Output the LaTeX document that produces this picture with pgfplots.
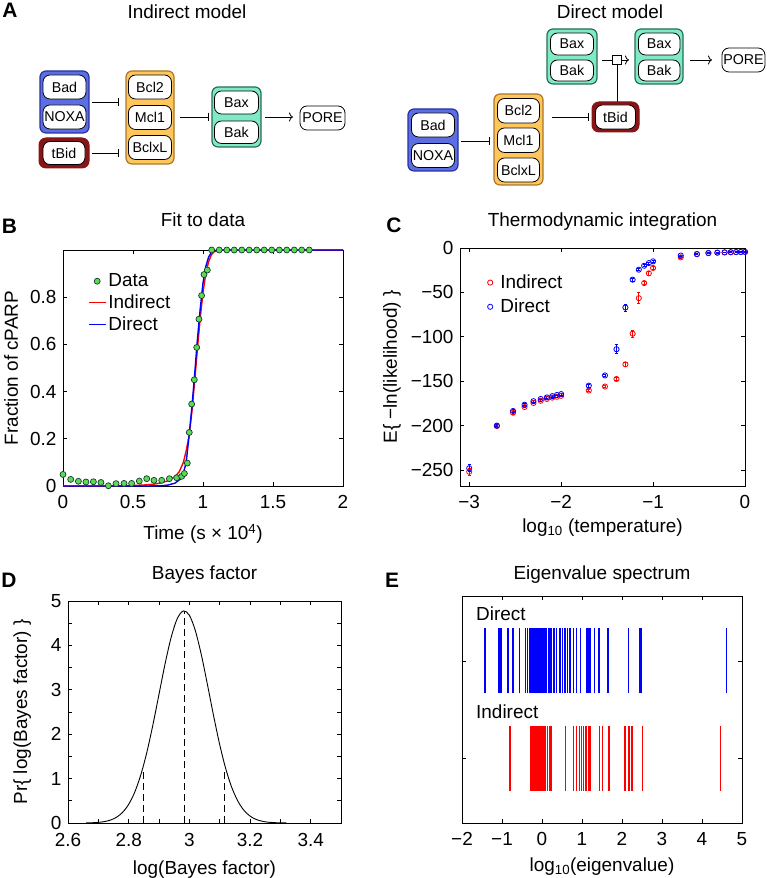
\documentclass[border=0pt]{standalone}
\usepackage{pgfplots}
\pgfplotsset{compat=1.18}
\usepackage{fontspec}
\setmainfont{Liberation Sans}
\usetikzlibrary{arrows.meta}

\definecolor{gblue}{RGB}{92,110,228}
\definecolor{gblueE}{RGB}{40,50,160}
\definecolor{gorange}{RGB}{255,198,92}
\definecolor{gorangeE}{RGB}{170,120,40}
\definecolor{ggreen}{RGB}{128,234,196}
\definecolor{ggreenE}{RGB}{40,110,85}
\definecolor{tbidred}{RGB}{135,20,22}
\definecolor{datagreen}{RGB}{90,220,80}
\definecolor{dataedge}{RGB}{20,60,50}

\newcommand\fs{\fontsize{19}{22}\selectfont}
\newcommand\bfs{\fontsize{14.3}{17}\selectfont}
\newcommand\pfs{\fontsize{21}{24}\selectfont\bfseries}
\newcommand\pill[5]{\draw[rounded corners=7bp, line width=0.8bp, fill=white] (#1,#2) rectangle (#3,#4);
  \node[font=\bfs, inner sep=0pt] at ({(#1+#3)/2},{(#2+#4)/2}) {#5};}

\pgfplotsset{
  myaxis/.style={scale only axis, anchor=south west, clip=false,
    axis line style={line width=0.8bp}, tick style={line width=0.7bp, black},
    major tick length=4bp, minor tick length=4bp,
    tick label style={font=\fs, inner sep=1bp}, label style={font=\fs}, title style={font=\fs},
    xticklabel style={yshift=-8.5bp}, yticklabel style={xshift=-5.3bp},
    /pgf/number format/assume math mode=true},
}

\begin{document}
\begin{tikzpicture}
\useasboundingbox (0,0) rectangle (767bp,878bp);

% ---------------- Panel A (diagrams) ----------------
\begin{scope}[x=1bp, y=-1bp, yshift=878bp]
\node[font=\pfs] at (10,10) {A};
\node[font=\fs] at (187,12) {Indirect model};
\node[font=\fs] at (610,12) {Direct model};
% Indirect model
\draw[rounded corners=6bp, line width=1.2bp, draw=gblueE, fill=gblue] (40,71) rectangle (89,133);
\pill{43}{75}{86}{99}{Bad}
\pill{43}{105}{86}{129}{NOXA}
\draw[rounded corners=7bp, line width=1bp, draw=tbidred, fill=tbidred] (39,138) rectangle (89,168);
\pill{43}{141.5}{85}{164.5}{tBid}
\draw[rounded corners=6bp, line width=1.2bp, draw=gorangeE, fill=gorange] (126,71) rectangle (174,164);
\pill{128.5}{75}{171.5}{99}{Bcl2}
\pill{128.5}{105.5}{171.5}{129.5}{Mcl1}
\pill{128.5}{135.5}{171.5}{159.5}{BclxL}
\draw[rounded corners=6bp, line width=1.2bp, draw=ggreenE, fill=ggreen] (212,87) rectangle (261,147);
\pill{214.5}{91}{258.5}{114}{Bax}
\pill{214.5}{121}{258.5}{143.5}{Bak}
\pill{300}{106}{345}{130}{PORE}
\draw[line width=0.8bp, -{Bar[width=8bp]}] (92,102) -- (119,102);
\draw[line width=0.8bp, -{Bar[width=8bp]}] (92,153) -- (119,153);
\draw[line width=0.8bp, -{Bar[width=8bp]}] (180,117) -- (209,117);
\draw[line width=0.8bp, -{To[length=4bp,width=9bp]}] (265,117) -- (293,117);
% Direct model
\draw[rounded corners=6bp, line width=1.2bp, draw=ggreenE, fill=ggreen] (547,29) rectangle (597,84);
\pill{550.5}{33}{593.5}{55}{Bax}
\pill{550.5}{60}{593.5}{81}{Bak}
\draw[rounded corners=6bp, line width=1.2bp, draw=ggreenE, fill=ggreen] (635,29) rectangle (683,84);
\pill{638.5}{33}{680}{55}{Bax}
\pill{638.5}{60}{680}{81}{Bak}
\draw[line width=0.8bp] (602,60) -- (612.5,60);
\draw[line width=0.8bp] (617,64.5) -- (617,102);
\draw[line width=0.8bp, fill=white] (612.5,55.5) rectangle (621.5,64.5);
\draw[line width=0.8bp, -{To[length=4bp,width=9bp]}] (621.5,60) -- (629,60);
\draw[line width=0.8bp, -{To[length=4bp,width=9bp]}] (690,60) -- (712,60);
\pill{722}{48}{765}{72}{PORE}
\draw[rounded corners=7bp, line width=1bp, draw=tbidred, fill=tbidred] (592,102) rectangle (639,132);
\pill{595.5}{105}{635.5}{129}{tBid}
\draw[line width=0.8bp, -{Bar[width=8bp]}] (552,117) -- (589,117);
\draw[rounded corners=6bp, line width=1.2bp, draw=gorangeE, fill=gorange] (494,94) rectangle (543,185);
\pill{497.5}{98.5}{539.5}{123}{Bcl2}
\pill{497.5}{128}{539.5}{152.5}{Mcl1}
\pill{497.5}{158}{539.5}{182}{BclxL}
\draw[line width=0.8bp, -{Bar[width=8bp]}] (461,141) -- (490,141);
\draw[rounded corners=6bp, line width=1.2bp, draw=gblueE, fill=gblue] (408,109) rectangle (458,171);
\pill{411.5}{113}{454.5}{137}{Bad}
\pill{411.5}{143.5}{454.5}{167.5}{NOXA}
% panel letters
\node[font=\pfs] at (9.5,226) {B};
\node[font=\pfs] at (394,225) {C};
\node[font=\pfs] at (9,580) {D};
\node[font=\pfs] at (392,580) {E};
\end{scope}

% ---------------- Panel B ----------------
\begin{axis}[myaxis, at={(63bp,392bp)}, width=280bp, height=236bp,
  xmin=0, xmax=2, ymin=0, ymax=1,
  xtick={0,0.5,1,1.5,2}, ytick={0,0.2,0.4,0.6,0.8},
  title={Fit to data}, title style={at={(axis description cs:0.5,1.075)}, anchor=base},
  xlabel={Time (s × 10\textsuperscript{4})}, xlabel style={at={(axis description cs:0.5,-0.228)}, anchor=base},
  ylabel={Fraction of cPARP}, ylabel style={at={(axis description cs:-0.185,0.5)}, anchor=center},
  legend style={draw=none, fill=none, at={(axis description cs:0.085,0.912)}, anchor=north west, font=\fs, row sep=2.5bp, inner sep=1bp},
  legend cell align=left]
\addplot[only marks, mark=*, mark size=3bp, mark options={fill=datagreen, draw=dataedge, line width=0.7bp}] coordinates {
(0.0,0.049) (0.055,0.028) (0.11,0.02) (0.164,0.017) (0.217,0.018) (0.271,0.015) (0.324,0.001)
(0.379,0.01) (0.436,0.011) (0.49,0.011) (0.545,0.021) (0.598,0.031) (0.65,0.024) (0.705,0.024)
(0.76,0.031) (0.812,0.035) (0.848,0.041) (0.867,0.053) (0.888,0.097) (0.902,0.227) (0.919,0.347)
(0.938,0.45) (0.955,0.587) (0.971,0.707) (0.99,0.807) (1.007,0.896) (1.031,0.915)
(1.062,1) (1.116,1) (1.17,1) (1.223,1) (1.277,1) (1.33,1) (1.384,1) (1.437,1) (1.491,1)
(1.545,1) (1.598,1) (1.652,1) (1.705,1) (1.759,1)};
\addlegendentry{Data}
\addplot[red, line width=1.4bp] coordinates {
(0,0) (0.3,0) (0.5,0.002) (0.6,0.005) (0.65,0.008) (0.7,0.013) (0.75,0.022) (0.8,0.04)
(0.83,0.06) (0.86,0.1) (0.88,0.15) (0.9,0.21) (0.92,0.31) (0.94,0.44) (0.96,0.58) (0.98,0.71)
(1.0,0.82) (1.02,0.9) (1.04,0.95) (1.06,0.98) (1.08,0.993) (1.12,1) (2,1)};
\addlegendentry{Indirect}
\addplot[blue, line width=1.4bp] coordinates {
(0,0) (0.6,0) (0.7,0.001) (0.75,0.004) (0.8,0.012) (0.84,0.03) (0.86,0.055) (0.88,0.1)
(0.9,0.21) (0.92,0.33) (0.94,0.47) (0.96,0.62) (0.98,0.75) (1.0,0.86) (1.02,0.93) (1.04,0.97)
(1.06,0.99) (1.1,1) (2,1)};
\addlegendentry{Direct}
\end{axis}

% ---------------- Panel C ----------------
\begin{axis}[myaxis, at={(460bp,392bp)}, width=285bp, height=238bp,
  xmin=-3.1, xmax=0, ymin=-268, ymax=0,
  xtick={-3,-2,-1,0}, xticklabels={−3,−2,−1,0},
  ytick={-250,-200,-150,-100,-50,0}, yticklabels={−250,−200,−150,−100,−50,0},
  title={Thermodynamic integration}, title style={at={(axis description cs:0.5,1.064)}, anchor=base},
  xlabel={log\textsubscript{10} (temperature)}, xlabel style={at={(axis description cs:0.5,-0.195)}, anchor=base},
  ylabel={E\{ −ln(likelihood) \}}, ylabel style={at={(axis description cs:-0.239,0.5)}, anchor=center},
  legend style={draw=none, fill=none, at={(axis description cs:0.08,0.9)}, anchor=north west, font=\fs, row sep=5bp, inner sep=1bp},
  legend cell align=left,
  legend image code/.code={\path (0bp,0bp) (14bp,0bp); \draw[mark repeat=2,mark phase=2,#1] plot coordinates {(0bp,0bp) (6bp,0bp) (12bp,0bp)};}]
\addplot[red, only marks, mark=o, mark size=2.6bp, mark options={line width=0.8bp},
  error bars/.cd, y dir=both, y explicit, error bar style={line width=0.8bp},
  error mark options={rotate=90, mark size=1.5bp, line width=0.8bp}] coordinates {
(-3,-252) +- (0,4) (-2.699,-200.5) +- (0,1) (-2.523,-185.5) +- (0,1.5) (-2.398,-179) +- (0,1)
(-2.301,-174.5) +- (0,1) (-2.222,-172) +- (0,1) (-2.155,-170) +- (0,1) (-2.097,-168.5) +- (0,1)
(-2.046,-167.5) +- (0,1) (-2,-166.5) +- (0,1) (-1.699,-160.5) +- (0,1) (-1.523,-156) +- (0,1)
(-1.398,-147.5) +- (0,1.5) (-1.301,-131) +- (0,2) (-1.222,-96.5) +- (0,4) (-1.155,-56.5) +- (0,6)
(-1.097,-39.5) +- (0,2) (-1.046,-28.5) +- (0,2) (-1,-22.5) +- (0,2) (-0.699,-10.5) +- (0,1)
(-0.523,-7) +- (0,0.5) (-0.398,-5.8) +- (0,0.5) (-0.301,-5.3) +- (0,0.5) (-0.222,-5) +- (0,0.5)
(-0.155,-4.8) +- (0,0.5) (-0.097,-4.6) +- (0,0.5) (-0.046,-4.5) +- (0,0.5) (0,-4.4) +- (0,0.5)};
\addlegendentry{Indirect}
\addplot[blue, only marks, mark=o, mark size=2.6bp, mark options={line width=0.8bp},
  error bars/.cd, y dir=both, y explicit, error bar style={line width=0.8bp},
  error mark options={rotate=90, mark size=1.5bp, line width=0.8bp}] coordinates {
(-3,-248) +- (0,4) (-2.699,-200) +- (0,1) (-2.523,-183.5) +- (0,1.5) (-2.398,-176.5) +- (0,1)
(-2.301,-172.5) +- (0,1) (-2.222,-170) +- (0,1) (-2.155,-168.3) +- (0,1) (-2.097,-166.8) +- (0,1)
(-2.046,-165.5) +- (0,1) (-2,-164.5) +- (0,1) (-1.699,-155) +- (0,1.5) (-1.523,-143.5) +- (0,1.5)
(-1.398,-114) +- (0,5) (-1.301,-67) +- (0,4) (-1.222,-35.7) +- (0,1.5) (-1.155,-24.4) +- (0,1)
(-1.097,-20) +- (0,1) (-1.046,-17) +- (0,1) (-1,-15) +- (0,1) (-0.699,-8.5) +- (0,0.5)
(-0.523,-6.8) +- (0,0.5) (-0.398,-5.6) +- (0,0.5) (-0.301,-5.2) +- (0,0.5) (-0.222,-4.9) +- (0,0.5)
(-0.155,-4.7) +- (0,0.5) (-0.097,-4.6) +- (0,0.5) (-0.046,-4.5) +- (0,0.5) (0,-4.4) +- (0,0.5)};
\addlegendentry{Direct}
\end{axis}

% ---------------- Panel D ----------------
\begin{axis}[myaxis, at={(68bp,55bp)}, width=273bp, height=222bp,
  xmin=2.6, xmax=3.5, ymin=0, ymax=5,
  xtick={2.6,2.8,3,3.2,3.4}, minor xtick={2.7,2.9,3.1,3.3},
  ytick={0,1,2,3,4,5}, minor ytick={0.5,1.5,2.5,3.5,4.5},
  xticklabel style={yshift=-1bp},
  title={Bayes factor}, title style={at={(axis description cs:0.5,1.07)}, anchor=base},
  xlabel={log(Bayes factor)}, xlabel style={at={(axis description cs:0.5,-0.231)}, anchor=base},
  ylabel={Pr\{ log(Bayes factor) \}}, ylabel style={at={(axis description cs:-0.168,0.5)}, anchor=center}]
\addplot[black, line width=0.9bp, smooth] coordinates {
(2.66,0.0025) (2.68,0.0061) (2.70,0.0143) (2.72,0.0316) (2.74,0.0658) (2.76,0.1294) (2.78,0.2401)
(2.80,0.4204) (2.82,0.695) (2.84,1.084) (2.86,1.594) (2.88,2.213) (2.90,2.899) (2.92,3.584)
(2.94,4.180) (2.96,4.600) (2.98,4.777) (3.00,4.681) (3.02,4.328) (3.04,3.776) (3.06,3.108)
(3.08,2.415) (3.10,1.770) (3.12,1.224) (3.14,0.799) (3.16,0.492) (3.18,0.2858) (3.20,0.1566)
(3.22,0.0811) (3.24,0.0396) (3.26,0.0182) (3.28,0.0079) (3.30,0.0033) (3.32,0.0013)};
\addplot[black, line width=0.8bp, dash pattern=on 7bp off 4bp] coordinates {(2.847,0) (2.847,1.2)};
\addplot[black, line width=0.8bp, dash pattern=on 7bp off 4bp] coordinates {(2.983,0) (2.983,4.78)};
\addplot[black, line width=0.8bp, dash pattern=on 7bp off 4bp] coordinates {(3.117,0) (3.117,1.2)};
\end{axis}

% ---------------- Panel E ----------------
\begin{axis}[myaxis, at={(462bp,55bp)}, width=280bp, height=227bp,
  xmin=-2, xmax=5, ymin=0.33, ymax=2.67,
  xtick={-2,-1,0,1,2,3,4,5}, xticklabels={−2,−1,0,1,2,3,4,5},
  ytick={1,2}, yticklabels={},
  unbounded coords=jump,
  title={Eigenvalue spectrum}, title style={at={(axis description cs:0.5,1.048)}, anchor=base},
  xlabel={log\textsubscript{10}(eigenvalue)}, xlabel style={at={(axis description cs:0.5,-0.214)}, anchor=base}]
\addplot[blue, line width=1.5bp, mark=none] coordinates {
(-1.43,1.665) (-1.43,2.335) (-1.43,nan) (-1.07,1.665) (-1.07,2.335) (-1.07,nan)
(-1.02,1.665) (-1.02,2.335) (-1.02,nan) (-0.85,1.665) (-0.85,2.335) (-0.85,nan)
(-0.73,1.665) (-0.73,2.335) (-0.73,nan) (-0.567,1.665) (-0.567,2.335) (-0.567,nan)
(-0.41,1.665) (-0.41,2.335) (-0.41,nan) (-0.36,1.665) (-0.36,2.335) (-0.36,nan)
(-0.3,1.665) (-0.3,2.335) (-0.3,nan) (-0.26,1.665) (-0.26,2.335) (-0.26,nan)
(-0.22,1.665) (-0.22,2.335) (-0.22,nan) (-0.195,1.665) (-0.195,2.335) (-0.195,nan)
(-0.17,1.665) (-0.17,2.335) (-0.17,nan) (-0.145,1.665) (-0.145,2.335) (-0.145,nan)
(-0.12,1.665) (-0.12,2.335) (-0.12,nan) (-0.095,1.665) (-0.095,2.335) (-0.095,nan)
(-0.07,1.665) (-0.07,2.335) (-0.07,nan) (-0.045,1.665) (-0.045,2.335) (-0.045,nan)
(-0.02,1.665) (-0.02,2.335) (-0.02,nan) (0.005,1.665) (0.005,2.335) (0.005,nan)
(0.03,1.665) (0.03,2.335) (0.03,nan) (0.055,1.665) (0.055,2.335) (0.055,nan)
(0.08,1.665) (0.08,2.335) (0.08,nan) (0.117,1.665) (0.117,2.335) (0.117,nan)
(0.158,1.665) (0.158,2.335) (0.158,nan) (0.2,1.665) (0.2,2.335) (0.2,nan)
(0.242,1.665) (0.242,2.335) (0.242,nan) (0.305,1.665) (0.305,2.335) (0.305,nan)
(0.367,1.665) (0.367,2.335) (0.367,nan) (0.45,1.665) (0.45,2.335) (0.45,nan)
(0.517,1.665) (0.517,2.335) (0.517,nan) (0.575,1.665) (0.575,2.335) (0.575,nan)
(0.642,1.665) (0.642,2.335) (0.642,nan) (0.7,1.665) (0.7,2.335) (0.7,nan)
(0.783,1.665) (0.783,2.335) (0.783,nan) (0.867,1.665) (0.867,2.335) (0.867,nan)
(0.96,1.665) (0.96,2.335) (0.96,nan) (1.11,1.665) (1.11,2.335) (1.11,nan)
(1.15,1.665) (1.15,2.335) (1.15,nan) (1.2,1.665) (1.2,2.335) (1.2,nan)
(1.315,1.665) (1.315,2.335) (1.315,nan) (1.43,1.665) (1.43,2.335) (1.43,nan)
(1.645,1.665) (1.645,2.335) (1.645,nan) (2.165,1.665) (2.165,2.335) (2.165,nan)
(2.45,1.665) (2.45,2.335) (2.45,nan) (2.475,1.665) (2.475,2.335) (2.475,nan)
(4.61,1.665) (4.61,2.335)};
\addplot[red, line width=1.5bp, mark=none] coordinates {
(-0.8,0.665) (-0.8,1.335) (-0.8,nan) (-0.275,0.665) (-0.275,1.335) (-0.275,nan)
(-0.25,0.665) (-0.25,1.335) (-0.25,nan) (-0.225,0.665) (-0.225,1.335) (-0.225,nan)
(-0.2,0.665) (-0.2,1.335) (-0.2,nan) (-0.175,0.665) (-0.175,1.335) (-0.175,nan)
(-0.15,0.665) (-0.15,1.335) (-0.15,nan) (-0.125,0.665) (-0.125,1.335) (-0.125,nan)
(-0.1,0.665) (-0.1,1.335) (-0.1,nan) (-0.075,0.665) (-0.075,1.335) (-0.075,nan)
(-0.05,0.665) (-0.05,1.335) (-0.05,nan) (-0.025,0.665) (-0.025,1.335) (-0.025,nan)
(0,0.665) (0,1.335) (0,nan) (0.025,0.665) (0.025,1.335) (0.025,nan)
(0.05,0.665) (0.05,1.335) (0.05,nan) (0.075,0.665) (0.075,1.335) (0.075,nan)
(0.14,0.665) (0.14,1.335) (0.14,nan) (0.183,0.665) (0.183,1.335) (0.183,nan)
(0.22,0.665) (0.22,1.335) (0.22,nan) (0.592,0.665) (0.592,1.335) (0.592,nan)
(0.783,0.665) (0.783,1.335) (0.783,nan) (0.867,0.665) (0.867,1.335) (0.867,nan)
(0.933,0.665) (0.933,1.335) (0.933,nan) (0.985,0.665) (0.985,1.335) (0.985,nan)
(1.04,0.665) (1.04,1.335) (1.04,nan) (1.1,0.665) (1.1,1.335) (1.1,nan)
(1.16,0.665) (1.16,1.335) (1.16,nan) (1.2,0.665) (1.2,1.335) (1.2,nan)
(1.44,0.665) (1.44,1.335) (1.44,nan) (1.517,0.665) (1.517,1.335) (1.517,nan)
(1.68,0.665) (1.68,1.335) (1.68,nan) (2.075,0.665) (2.075,1.335) (2.075,nan)
(2.18,0.665) (2.18,1.335) (2.18,nan) (2.25,0.665) (2.25,1.335) (2.25,nan)
(2.508,0.665) (2.508,1.335) (2.508,nan) (4.46,0.665) (4.46,1.335)};
\node[font=\fs, anchor=west, inner sep=0pt] at (axis cs:-1.65,2.485) {Direct};
\node[font=\fs, anchor=west, inner sep=0pt] at (axis cs:-1.65,1.474) {Indirect};
\end{axis}
\end{tikzpicture}
\end{document}
